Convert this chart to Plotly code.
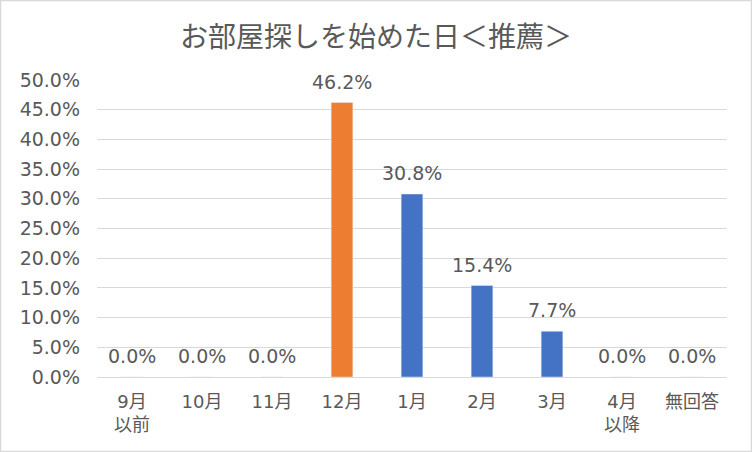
import plotly.graph_objects as go

categories = ["9月<br>以前", "10月", "11月", "12月", "1月", "2月", "3月", "4月<br>以降", "無回答"]
values = [0.0, 0.0, 0.0, 46.2, 30.8, 15.4, 7.7, 0.0, 0.0]
bar_colors = ["#4472C4", "#4472C4", "#4472C4", "#ED7D31", "#4472C4", "#4472C4", "#4472C4", "#4472C4", "#4472C4"]
tick_vals = [0, 5, 10, 15, 20, 25, 30, 35, 40, 45, 50]
tick_text = [f"{v:.1f}%" for v in tick_vals]
title_text = "お部屋探しを始めた日＜推薦＞"

CJK = "Noto Sans CJK JP"
NUM = "DejaVu Sans, Noto Sans CJK JP"
GREY = "#595959"

fig = go.Figure()
fig.add_trace(go.Bar(
    x=categories, y=values, marker_color=bar_colors, width=0.31,
    hoverinfo="skip",
))

for c, v in zip(categories, values):
    fig.add_annotation(x=c, y=v, text=f"{v:.1f}%", showarrow=False,
                       yanchor="bottom", yshift=8,
                       font=dict(family=NUM, size=19, color=GREY))

fig.update_layout(
    width=752, height=452,
    margin=dict(l=97, r=25, t=80, b=75),
    paper_bgcolor="white", plot_bgcolor="white",
    showlegend=False,
    title=dict(text=title_text, x=0.5, xanchor="center", y=1 - 37/452, yanchor="middle",
               font=dict(family=CJK, size=28, color=GREY)),
    font=dict(family=CJK, color=GREY),
    xaxis=dict(showgrid=False, showline=False, ticks="", ticklabelstandoff=12,
               tickfont=dict(family=NUM, size=18, color=GREY)),
    yaxis=dict(range=[0, 50], tickvals=tick_vals, ticktext=tick_text,
               showgrid=True, gridcolor="#D9D9D9", gridwidth=1,
               zeroline=True, zerolinecolor="#D9D9D9", zerolinewidth=1,
               showline=False, ticks="", ticklabelstandoff=16,
               tickfont=dict(family=NUM, size=19, color=GREY)),
    shapes=[dict(type="rect", xref="paper", yref="paper",
                 x0=-96.5/630, x1=1 + 24.5/630, y0=-74.5/297, y1=1 + 79.5/297,
                 line=dict(color="#D9D9D9", width=1.5), fillcolor="rgba(0,0,0,0)")],
)

fig.write_html("out.html", config={"displayModeBar": False},
               post_script="document.body.style.margin='0';")
